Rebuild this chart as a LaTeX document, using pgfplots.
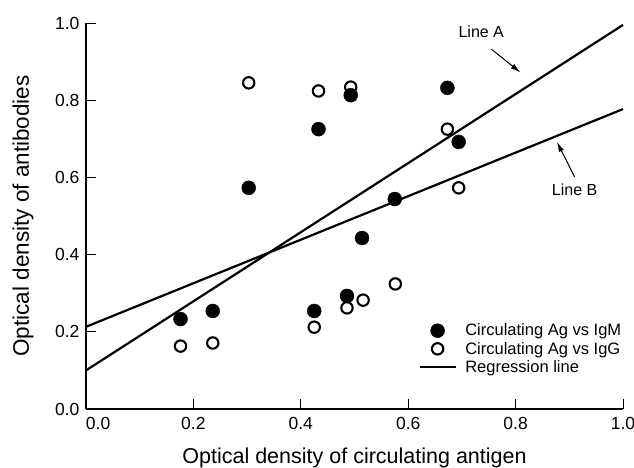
\documentclass[border=0pt]{standalone}
\usepackage{fontspec}
\setmainfont{Liberation Sans}
\usepackage{pgfplots}
\pgfplotsset{compat=1.18}
\usetikzlibrary{arrows.meta}

\begin{document}
\begin{tikzpicture}
\begin{axis}[
    scale only axis,
    width=537pt, height=386pt,
    xmin=0, xmax=1, ymin=0, ymax=1,
    axis x line*=bottom, axis y line*=left,
    axis line style={line width=2pt, -},
    xtick={0,0.2,0.4,0.6,0.8,1.0},
    xticklabels={\rlap{0.0},0.2,0.4,0.6,0.8,1.0},
    ytick={0,0.2,0.4,0.6,0.8,1.0},
    yticklabels={0.0,0.2,0.4,0.6,0.8,1.0},
    tick align=inside,
    major tick length=10pt,
    tick style={line width=1pt, black},
    tick label style={font=\fontsize{17.5}{19}\selectfont},
    xticklabel style={yshift=-5pt},
    yticklabel style={xshift=-3pt},
    xlabel={Optical density of circulating antigen},
    ylabel={Optical density of antibodies},
    xlabel style={font=\fontsize{21.5}{24}\selectfont, at={(axis description cs:0.5,0)}, anchor=base, yshift=-54pt},
    ylabel style={font=\fontsize{22.5}{24}\selectfont, at={(axis description cs:-0.1173,0.5)}, anchor=center},
    clip=false,
    legend style={draw=none, fill=none, inner sep=0pt, row sep=1.5pt,
        at={(rel axis cs:1.0,0.225)}, anchor=north east,
        font=\fontsize{16.5}{18}\selectfont,
        nodes={inner sep=1.6pt},
        /tikz/every odd column/.append style={column sep=7pt}},
    legend cell align=left,
    legend image code/.code={\draw[mark repeat=2,mark phase=2,#1] plot coordinates {(0pt,0pt) (18pt,0pt) (36pt,0pt)};},
]
% regression lines
\addplot[black, line width=2.2pt, forget plot] coordinates {(0,0.100) (1.0,0.995)};
\addplot[black, line width=2.2pt, forget plot] coordinates {(0,0.213) (1.0,0.777)};

% IgM (filled)
\addplot[only marks, mark=*, mark size=7pt, black] coordinates {
    (0.176,0.233) (0.236,0.254) (0.425,0.254) (0.486,0.293) (0.514,0.443)
    (0.303,0.573) (0.433,0.725) (0.493,0.813) (0.673,0.832) (0.694,0.692)
    (0.575,0.544)
};
\addlegendentry{Circulating Ag vs IgM}

% IgG (open)
\addplot[only marks, mark=o, mark size=5.7pt, black, mark options={fill=white, line width=2.1pt}] coordinates {
    (0.176,0.163) (0.236,0.171) (0.425,0.212) (0.486,0.262) (0.516,0.282)
    (0.576,0.324) (0.303,0.845) (0.433,0.824) (0.493,0.834) (0.673,0.725)
    (0.694,0.573)
};
\addlegendentry{Circulating Ag vs IgG}

\addlegendimage{black, line width=2.2pt}
\addlegendentry{Regression line}

% annotations
\node[font=\fontsize{16}{18}\selectfont] at (axis cs:0.736,0.977) {Line A};
\draw[line width=1pt, -{Latex[length=10pt,width=5.5pt]}] (axis cs:0.755,0.932) -- (axis cs:0.809,0.872);
\node[font=\fontsize{16}{18}\selectfont] at (axis cs:0.910,0.567) {Line B};
\draw[line width=1pt, -{Latex[length=10pt,width=5.5pt]}] (axis cs:0.910,0.601) -- (axis cs:0.877,0.692);
\end{axis}
\pgfresetboundingbox
\path (current axis.south west) ++(-86pt,-58pt) rectangle ++(634pt,467pt);
\end{tikzpicture}
\end{document}
